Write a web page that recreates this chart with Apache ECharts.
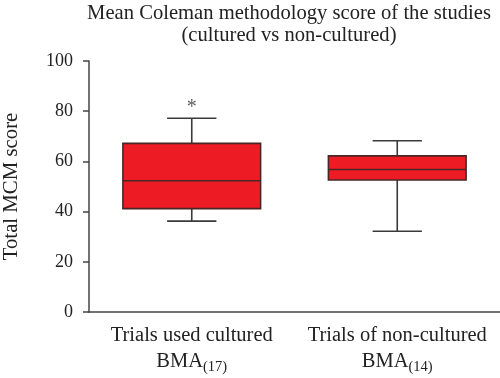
<!DOCTYPE html>
<html>
<head>
<meta charset="utf-8">
<script src="https://cdn.jsdelivr.net/npm/echarts@6/dist/echarts.min.js"></script>
<style>html,body{margin:0;padding:0;background:#fff}#c{width:500px;height:378px}</style>
</head>
<body>
<div id="c"></div>
<script>
const categoryNames = ['Trials used cultured', 'Trials of non-cultured'];
const categorySubs = ['(17)', '(14)'];
const whiskerLow = [36.2, 32.2];
const q1 = [41.2, 52.6];
const median = [52.3, 56.8];
const q3 = [67.2, 62.2];
const whiskerHigh = [77.2, 68.2];
const outlierPoints = [[0, 83]];
const yTicks = [0, 20, 40, 60, 80, 100];

const FONT = '"Liberation Serif", "DejaVu Serif", serif';
const boxData = categoryNames.map((_, i) => [i, whiskerLow[i], q1[i], median[i], q3[i], whiskerHigh[i]]);

const chart = echarts.init(document.getElementById('c'), null, {renderer: 'canvas'});
chart.setOption({
  animation: false,
  backgroundColor: '#fff',
  title: {
    text: 'Mean Coleman methodology score of the studies\n(cultured vs non-cultured)',
    left: 284, top: -3, textAlign: 'center',
    textStyle: {fontFamily: FONT, fontSize: 20.6, fontWeight: 'normal', color: '#222', lineHeight: 22.5}
  },
  grid: {left: 89, right: 0, top: 61, bottom: 66, containLabel: false, outerBoundsMode: 'none'},
  xAxis: {
    type: 'category',
    data: categoryNames.map((n, i) => n + '|' + categorySubs[i]),
    axisLine: {lineStyle: {color: '#444', width: 1.5}},
    axisTick: {alignWithLabel: true, length: 5, lineStyle: {color: '#444', width: 1.5}},
    axisLabel: {
      interval: 0, hideOverlap: false,
      margin: 11, color: '#222', fontFamily: FONT, fontSize: 20.5, lineHeight: 26,
      formatter: v => { const p = v.split('|'); return '{a|' + p[0] + '}\n{a|BMA}{s|' + p[1] + '}'; },
      rich: {
        a: {fontFamily: FONT, fontSize: 20.5, lineHeight: 26, color: '#222'},
        s: {fontFamily: FONT, fontSize: 14.5, lineHeight: 14, color: '#222', padding: [14, 0, 0, 0], verticalAlign: 'bottom'}
      }
    },
    splitLine: {show: false}
  },
  yAxis: {
    type: 'value', min: 0, max: 100, interval: 20,
    name: 'Total MCM score', nameLocation: 'middle', nameGap: 67,
    nameTextStyle: {fontFamily: FONT, fontSize: 20.8, color: '#222'},
    axisLine: {show: true, lineStyle: {color: '#444', width: 1.5}},
    axisTick: {show: true, length: 6, lineStyle: {color: '#444', width: 1.5}},
    axisLabel: {margin: 16, color: '#222', fontFamily: FONT, fontSize: 18,
      formatter: v => yTicks.includes(v) ? String(v) : ''},
    splitLine: {show: false}
  },
  series: [
    {
      type: 'custom',
      data: boxData,
      encode: {x: 0, y: [1, 2, 3, 4, 5]},
      renderItem: function (params, api) {
        const i = api.value(0);
        const band = api.size([1, 0])[0];
        const bw = band * 0.67, cw = band * 0.24;
        const x = api.coord([i, 0])[0];
        const yLo = api.coord([i, api.value(1)])[1];
        const yQ1 = api.coord([i, api.value(2)])[1];
        const yMed = api.coord([i, api.value(3)])[1];
        const yQ3 = api.coord([i, api.value(4)])[1];
        const yHi = api.coord([i, api.value(5)])[1];
        const ws = {stroke: '#3a3a3a', lineWidth: 1.6};
        return {type: 'group', children: [
          {type: 'line', shape: {x1: x, y1: yQ1, x2: x, y2: yLo}, style: ws},
          {type: 'line', shape: {x1: x - cw / 2, y1: yLo, x2: x + cw / 2, y2: yLo}, style: ws},
          {type: 'line', shape: {x1: x, y1: yQ3, x2: x, y2: yHi}, style: ws},
          {type: 'line', shape: {x1: x - cw / 2, y1: yHi, x2: x + cw / 2, y2: yHi}, style: ws},
          {type: 'rect', shape: {x: x - bw / 2, y: yQ3, width: bw, height: yQ1 - yQ3},
            style: {fill: '#ED1C24', stroke: '#4a2626', lineWidth: 1.6}},
          {type: 'line', shape: {x1: x - bw / 2, y1: yMed, x2: x + bw / 2, y2: yMed}, style: {stroke: '#4a2626', lineWidth: 1.6}}
        ]};
      }
    },
    {
      type: 'scatter',
      data: outlierPoints,
      symbolSize: 0,
      label: {show: true, position: 'inside', formatter: '*', fontFamily: FONT, fontSize: 20, color: '#333', offset: [0, 4]}
    }
  ]
});
</script>
</body>
</html>
